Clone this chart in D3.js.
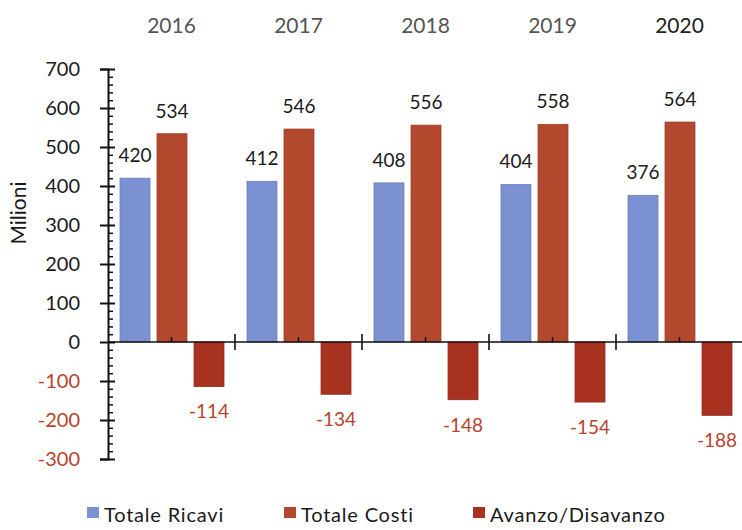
<!DOCTYPE html>
<html>
<head>
<meta charset="utf-8">
<script src="https://cdn.jsdelivr.net/npm/d3@7"></script>
<style>
  body { margin: 0; background: #fff; }
  svg text { font-family: "Century Gothic", "Lato", sans-serif; }
</style>
</head>
<body>
<svg width="742" height="530"></svg>
<script>
var anni = ["2016", "2017", "2018", "2019", "2020"];
var serie = ["Totale Ricavi", "Totale Costi", "Avanzo/Disavanzo"];
var ricavi = [420, 412, 408, 404, 376];
var costi = [534, 546, 556, 558, 564];
var avanzo = [-114, -134, -148, -154, -188];
var yTicks = [-300, -200, -100, 0, 100, 200, 300, 400, 500, 600, 700];
var colori = ["#7b91d2", "#b2492d", "#a8311f"];

var svg = d3.select("svg");

var x0 = d3.scaleBand().domain(anni).range([108, 743]);
var x1 = d3.scaleBand().domain(serie).range([12, 116]).paddingInner(0.19);
var y = d3.scaleLinear().domain([-300, 700]).range([459, 69]);

var dati = anni.map(function(a, i) {
    return { anno: a, valori: [ricavi[i], costi[i], avanzo[i]] };
});

// barre
var gruppi = svg.selectAll(".anno")
    .data(dati)
    .enter().append("g")
    .attr("transform", function(d) { return "translate(" + x0(d.anno) + ",0)"; });

gruppi.selectAll("rect")
    .data(function(d) { return d.valori.map(function(v, j) { return { s: serie[j], v: v, j: j }; }); })
    .enter().append("rect")
    .attr("x", function(d) { return x1(d.s); })
    .attr("width", x1.bandwidth())
    .attr("y", function(d) { return y(Math.max(0, d.v)); })
    .attr("height", function(d) { return Math.abs(y(d.v) - y(0)); })
    .attr("fill", function(d) { return colori[d.j]; })
    .attr("stroke", function(d) { return d3.color(colori[d.j]).darker(0.4); })
    .attr("stroke-width", 0.8);

// etichette valori
gruppi.selectAll(".lab")
    .data(function(d) { return d.valori.map(function(v, j) { return { s: serie[j], v: v, j: j }; }); })
    .enter().append("text")
    .attr("x", function(d) { return x1(d.s) + x1.bandwidth() / 2; })
    .attr("y", function(d) { return d.v >= 0 ? y(d.v) - 16 : y(d.v) + 32; })
    .attr("text-anchor", "middle")
    .attr("font-size", 19)
    .attr("fill", function(d) { return d.v < 0 ? "#b8432c" : "#1a1a1a"; })
    .text(function(d) { return d.v; });

// anni in alto
svg.selectAll(".yr")
    .data(anni)
    .enter().append("text")
    .attr("x", function(d) { return x0(d) + x0.bandwidth() / 2; })
    .attr("y", 33)
    .attr("text-anchor", "middle")
    .attr("font-size", 21)
    .attr("fill", function(d, i) { return i === anni.length - 1 ? "#222" : "#555"; })
    .text(function(d) { return d; });

// asse y
var yAxis = svg.append("g")
    .attr("transform", "translate(108,0)")
    .call(d3.axisLeft(y).tickValues(yTicks).tickSize(8).tickPadding(20)
        .tickFormat(function(d) { return String(d); }));
yAxis.select(".domain").attr("stroke", "#111").attr("stroke-width", 2);
yAxis.selectAll(".tick line").attr("x2", 7).attr("x1", -8).attr("stroke", "#111").attr("stroke-width", 2);
yAxis.selectAll(".tick text")
    .attr("font-size", 20)
    .attr("font-family", "\"Century Gothic\", \"Lato\", sans-serif")
    .attr("fill", function(d) { return d < 0 ? "#b8432c" : "#1a1a1a"; });

var minori = d3.range(-300, 701, 20).filter(function(v) { return v % 100 !== 0; });
var yMinor = svg.append("g")
    .attr("transform", "translate(108,0)")
    .call(d3.axisRight(y).tickValues(minori).tickSize(5).tickFormat(""));
yMinor.select(".domain").remove();
yMinor.selectAll(".tick line").attr("stroke", "#111").attr("stroke-width", 1.5);

// asse x sullo zero
svg.append("line")
    .attr("x1", 108).attr("x2", 743)
    .attr("y1", y(0)).attr("y2", y(0))
    .attr("stroke", "#111").attr("stroke-width", 1.6);
svg.selectAll(".xt")
    .data(anni.slice(1))
    .enter().append("line")
    .attr("x1", function(d) { return x0(d); })
    .attr("x2", function(d) { return x0(d); })
    .attr("y1", y(0) - 8).attr("y2", y(0) + 8)
    .attr("stroke", "#111").attr("stroke-width", 1.6);
svg.selectAll(".xm")
    .data(anni)
    .enter().append("line")
    .attr("x1", function(d) { return x0(d) + x0.bandwidth() / 2; })
    .attr("x2", function(d) { return x0(d) + x0.bandwidth() / 2; })
    .attr("y1", y(0) - 5).attr("y2", y(0))
    .attr("stroke", "#111").attr("stroke-width", 1.5);

// titolo asse
svg.append("text")
    .attr("transform", "translate(26,213) rotate(-90)")
    .attr("text-anchor", "middle")
    .attr("font-size", 21)
    .attr("fill", "#1a1a1a")
    .text("Milioni");

// legenda
var legX = [87, 284, 473];
var leg = svg.selectAll(".leg")
    .data(serie)
    .enter().append("g")
    .attr("transform", function(d, i) { return "translate(" + legX[i] + ",507)"; });
leg.append("rect")
    .attr("width", 12).attr("height", 11)
    .attr("fill", function(d, i) { return colori[i]; });
leg.append("text")
    .attr("x", 17)
    .attr("y", 15)
    .attr("font-size", 20)
    .attr("letter-spacing", 0.8)
    .attr("fill", "#1a1a1a")
    .text(function(d) { return d; });
</script>
</body>
</html>
